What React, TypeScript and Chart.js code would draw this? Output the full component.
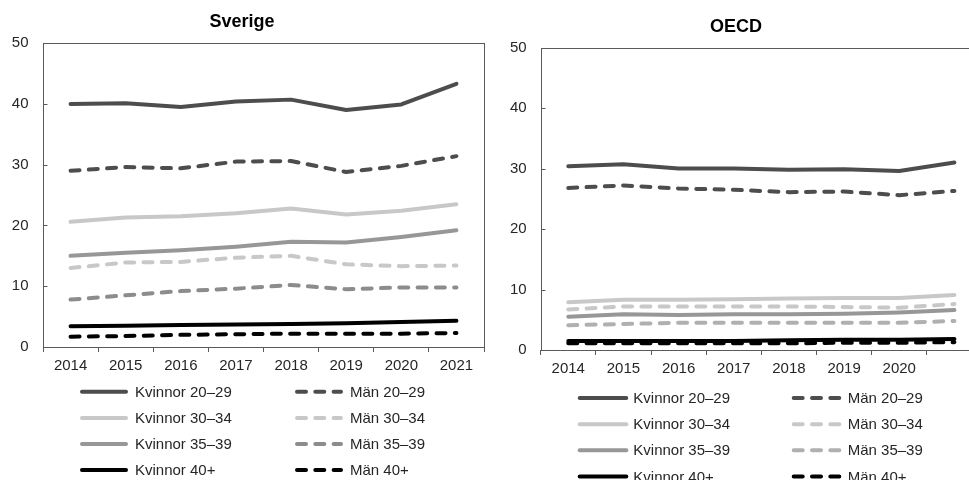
import React, { useEffect, useRef } from 'react';
import { Chart, registerables } from 'chart.js';
Chart.register(...registerables);

const years = ['2014', '2015', '2016', '2017', '2018', '2019', '2020', '2021'];
const sverigeTickLabels = ['2014', '2015', '2016', '2017', '2018', '2019', '2020', '2021'];
const oecdTickLabels = ['2014', '2015', '2016', '2017', '2018', '2019', '2020', ''];
const yTicks = [0, 10, 20, 30, 40, 50];

const seriesNames = ['Kvinnor 20–29', 'Män 20–29', 'Kvinnor 30–34', 'Män 30–34', 'Kvinnor 35–39', 'Män 35–39', 'Kvinnor 40+', 'Män 40+'];

const sverigeKvinnor2029 = [40.0, 40.1, 39.5, 40.4, 40.7, 39.0, 39.9, 43.3];
const sverigeMan2029 = [29.0, 29.6, 29.4, 30.5, 30.6, 28.8, 29.8, 31.4];
const sverigeKvinnor3034 = [20.6, 21.3, 21.5, 22.0, 22.8, 21.8, 22.4, 23.5];
const sverigeMan3034 = [13.0, 13.9, 14.0, 14.7, 15.0, 13.6, 13.3, 13.4];
const sverigeKvinnor3539 = [15.0, 15.5, 15.9, 16.5, 17.3, 17.2, 18.1, 19.2];
const sverigeMan3539 = [7.8, 8.5, 9.2, 9.6, 10.2, 9.5, 9.8, 9.8];
const sverigeKvinnor40 = [3.4, 3.5, 3.6, 3.7, 3.8, 3.9, 4.1, 4.3];
const sverigeMan40 = [1.7, 1.8, 2.0, 2.1, 2.2, 2.2, 2.2, 2.3];

const oecdKvinnor2029 = [30.4, 30.7, 30.0, 30.0, 29.8, 29.9, 29.6, 31.0];
const oecdMan2029 = [26.8, 27.2, 26.7, 26.5, 26.1, 26.2, 25.6, 26.3];
const oecdKvinnor3034 = [7.9, 8.3, 8.3, 8.4, 8.5, 8.6, 8.6, 9.1];
const oecdMan3034 = [6.7, 7.2, 7.2, 7.2, 7.2, 7.1, 7.0, 7.6];
const oecdKvinnor3539 = [5.5, 5.9, 5.8, 5.9, 5.9, 6.0, 6.2, 6.6];
const oecdMan3539 = [4.1, 4.3, 4.5, 4.5, 4.5, 4.5, 4.5, 4.8];
const oecdKvinnor40 = [1.5, 1.5, 1.5, 1.5, 1.6, 1.7, 1.7, 1.8];
const oecdMan40 = [1.1, 1.1, 1.1, 1.1, 1.1, 1.2, 1.2, 1.3];

const FONT = "'Liberation Sans', Arial, sans-serif";
const TEXT = '#262626';
const AXIS = '#5a5a5a';
const DASH = [9, 9.3];

const sverigeColors = ['#4d4d4d', '#4d4d4d', '#c8c8c8', '#c8c8c8', '#979797', '#8c8c8c', '#000000', '#000000'];
const oecdColors = ['#4d4d4d', '#4d4d4d', '#c8c8c8', '#c8c8c8', '#979797', '#b0b0b0', '#000000', '#000000'];

const framePlugin = {
  id: 'frame',
  afterDatasetsDraw(chart: any) {
    const { ctx, chartArea } = chart;
    const yScale = chart.scales.y;
    const left = Math.round(chartArea.left) + 0.5;
    ctx.save();
    ctx.strokeStyle = AXIS;
    ctx.lineWidth = 1;
    ctx.strokeRect(left, Math.round(chartArea.top) + 0.5,
      Math.round(chartArea.right - chartArea.left), Math.round(chartArea.bottom - chartArea.top));
    // inward y tick marks
    ctx.beginPath();
    yTicks.forEach((v) => {
      const y = Math.round(yScale.getPixelForValue(v)) + 0.5;
      ctx.moveTo(left, y);
      ctx.lineTo(left + 4, y);
    });
    ctx.stroke();
    ctx.restore();
  },
};

const legendPlugin = {
  id: 'customLegend',
  afterDraw(chart: any, _args: any, o: any) {
    const ctx = chart.ctx;
    chart.data.datasets.forEach((ds: any, i: number) => {
      const col = i % 2;
      const row = Math.floor(i / 2);
      const y = o.rowY[row];
      const [x1, x2] = o.lineX[col];
      ctx.save();
      ctx.strokeStyle = ds.borderColor;
      ctx.lineWidth = ds.borderWidth;
      ctx.lineCap = 'round';
      ctx.setLineDash(ds.borderDash || []);
      ctx.beginPath();
      ctx.moveTo(x1 + 2, y);
      ctx.lineTo(x2 - 2, y);
      ctx.stroke();
      ctx.setLineDash([]);
      ctx.fillStyle = TEXT;
      ctx.font = `15px ${FONT}`;
      ctx.textBaseline = 'middle';
      ctx.textAlign = 'left';
      ctx.fillText(ds.label, o.textX[col], y + 1);
      ctx.restore();
    });
  },
};

function makeConfig(p: any): any {
  const datasets = p.series.map((data: number[], i: number) => ({
    label: seriesNames[i],
    data,
    borderColor: p.colors[i],
    backgroundColor: p.colors[i],
    borderWidth: 4,
    borderDash: i % 2 === 1 ? DASH : [],
    borderCapStyle: 'round',
    borderJoinStyle: 'round',
    pointRadius: 0,
    tension: 0,
    fill: false,
  }));
  return {
    type: 'line',
    data: { labels: years, datasets },
    plugins: [framePlugin, legendPlugin],
    options: {
      responsive: false,
      animation: false,
      events: [],
      layout: { padding: { left: 0, right: 6, top: 0, bottom: p.bottomPad } },
      plugins: {
        legend: { display: false },
        tooltip: { enabled: false },
        title: {
          display: true,
          text: p.title,
          color: '#000',
          font: { family: FONT, size: 18, weight: 'bold' },
          padding: { top: p.titleTop, bottom: p.titleBottom },
        },
        customLegend: p.legend,
      },
      scales: {
        x: {
          type: 'category',
          offset: true,
          afterFit: (s: any) => { s.height = p.xHeight; },
          grid: { display: true, offset: true, drawOnChartArea: false, drawTicks: true, tickLength: 5, color: AXIS },
          border: { display: false },
          ticks: {
            autoSkip: false, maxRotation: 0, minRotation: 0, padding: 5,
            color: TEXT, font: { family: FONT, size: 15 },
            callback: (_v: any, idx: number) => p.tickLabels[idx],
          },
        },
        y: {
          min: 0, max: 50,
          afterFit: (s: any) => { s.width = p.yWidth; },
          afterBuildTicks: (s: any) => { s.ticks = yTicks.map((v) => ({ value: v })); },
          grid: { display: false, drawTicks: false },
          border: { display: false },
          ticks: { padding: p.yPad, color: TEXT, font: { family: FONT, size: 15 } },
        },
      },
    },
  };
}

export default function App() {
  const leftRef = useRef<HTMLCanvasElement>(null);
  const rightRef = useRef<HTMLCanvasElement>(null);

  useEffect(() => {
    const left = new Chart(leftRef.current as HTMLCanvasElement, makeConfig({
      title: 'Sverige',
      series: [sverigeKvinnor2029, sverigeMan2029, sverigeKvinnor3034, sverigeMan3034, sverigeKvinnor3539, sverigeMan3539, sverigeKvinnor40, sverigeMan40],
      colors: sverigeColors,
      tickLabels: sverigeTickLabels,
      titleTop: 11.5, titleBottom: 10,
      yWidth: 43, yPad: 14.5,
      bottomPad: 100, xHeight: 33,
      legend: { rowY: [391.7, 418, 444, 470], lineX: [[80, 128], [295, 343]], textX: [135, 350] },
    }));
    const right = new Chart(rightRef.current as HTMLCanvasElement, makeConfig({
      title: 'OECD',
      series: [oecdKvinnor2029, oecdMan2029, oecdKvinnor3034, oecdMan3034, oecdKvinnor3539, oecdMan3539, oecdKvinnor40, oecdMan40],
      colors: oecdColors,
      tickLabels: oecdTickLabels,
      titleTop: 16, titleBottom: 10,
      yWidth: 50.7, yPad: 14,
      bottomPad: 100, xHeight: 30,
      legend: { rowY: [398, 424.3, 450.3, 476.5], lineX: [[87.7, 138.3], [301.7, 351.7]], textX: [143.3, 357.7] },
    }));
    return () => { left.destroy(); right.destroy(); };
  }, []);

  return (
    <div style={{ position: 'fixed', left: 0, top: 0, width: 969, height: 480, overflow: 'hidden', background: '#fff' }}>
      <canvas ref={leftRef} width={490} height={480} style={{ position: 'absolute', left: 0, top: 0, width: 490, height: 480 }} />
      <canvas ref={rightRef} width={498} height={480} style={{ position: 'absolute', left: 490, top: 0, width: 498, height: 480 }} />
    </div>
  );
}
